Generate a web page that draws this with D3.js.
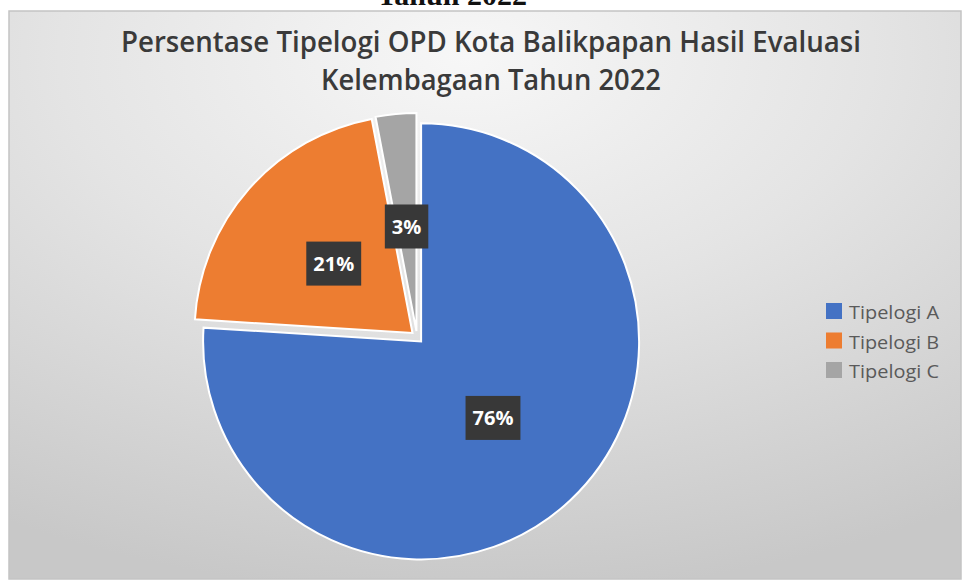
<!DOCTYPE html>
<html>
<head>
<meta charset="utf-8">
<script src="https://cdn.jsdelivr.net/npm/d3@7"></script>
<style>
  body { margin: 0; background: #fff; }
  svg { display: block; }
</style>
</head>
<body>
<div id="chart"></div>
<script>
// données
const categories = ["Tipelogi A", "Tipelogi B", "Tipelogi C"];
const values = [76, 21, 3];
const labels = ["76%", "21%", "3%"];
const colors = ["#4472C4", "#ED7D31", "#A5A5A5"];

const width = 963, height = 581;

const svg = d3.select("#chart").append("svg")
  .attr("width", width)
  .attr("height", height);

// fond dégradé
const defs = svg.append("defs");
const grad = defs.append("radialGradient")
  .attr("id", "bg")
  .attr("cx", "48%").attr("cy", "8%")
  .attr("r", "95%")
  .attr("fx", "48%").attr("fy", "8%");
grad.append("stop").attr("offset", "0%").attr("stop-color", "#f7f7f7");
grad.append("stop").attr("offset", "45%").attr("stop-color", "#e4e4e4");
grad.append("stop").attr("offset", "100%").attr("stop-color", "#c8c8c8");

svg.append("rect")
  .attr("x", 9).attr("y", 11)
  .attr("width", 952).attr("height", 568)
  .attr("fill", "url(#bg)")
  .attr("stroke", "#c4c4c4")
  .attr("stroke-width", 1.5);

// texte coupé en haut (comme dans l'image d'origine)
svg.append("text")
  .attr("x", 452).attr("y", 5)
  .attr("text-anchor", "middle")
  .attr("font-family", "Liberation Serif, serif")
  .attr("font-weight", "bold")
  .attr("font-size", 30)
  .attr("fill", "#111")
  .text("Tahun 2022");

// titre
const title = ["Persentase Tipelogi OPD Kota Balikpapan Hasil Evaluasi", "Kelembagaan Tahun 2022"];
const titleW = [740, 340];
svg.selectAll("text.title").data(title).enter()
  .append("text")
  .attr("class", "title")
  .attr("x", 491)
  .attr("y", (d, i) => 52 + i * 38)
  .attr("text-anchor", "middle")
  .attr("font-family", "Open Sans, sans-serif")
  .attr("font-weight", 600)
  .attr("font-size", 28)
  .attr("fill", "#3a3a3a")
  .attr("textLength", (d, i) => titleW[i])
  .attr("lengthAdjust", "spacingAndGlyphs")
  .text(d => d);

// camembert
const cx = 417, cy = 337, r = 218, explode = 6;
const pie = d3.pie().sort(null).value(d => d)(values);
const arc = d3.arc().innerRadius(0).outerRadius(r);
const labelArc = d3.arc().innerRadius(105).outerRadius(105);

const g = svg.append("g").attr("transform", `translate(${cx},${cy})`);

const slices = g.selectAll("g.slice").data(pie).enter()
  .append("g")
  .attr("class", "slice")
  .attr("transform", d => {
    const a = (d.startAngle + d.endAngle) / 2;
    return `translate(${explode * Math.sin(a)},${-explode * Math.cos(a)})`;
  });

slices.append("path")
  .attr("d", arc)
  .attr("fill", (d, i) => colors[i])
  .attr("stroke", "#ffffff")
  .attr("stroke-width", 2);

// étiquettes
slices.each(function(d, i) {
  const [lx, ly] = labelArc.centroid(d);
  const s = d3.select(this);
  const box = s.append("rect").attr("fill", "#383838");
  const t = s.append("text")
    .attr("x", lx).attr("y", ly)
    .attr("text-anchor", "middle")
    .attr("dominant-baseline", "central")
    .attr("font-family", "Open Sans, sans-serif")
    .attr("font-weight", "bold")
    .attr("font-size", 20)
    .attr("fill", "#ffffff")
    .text(labels[i]);
  const w = t.node().getComputedTextLength() + 14;
  box.attr("x", lx - w / 2).attr("y", ly - 22)
    .attr("width", w).attr("height", 44);
});

// légende
const legend = svg.selectAll("g.legend").data(categories).enter()
  .append("g")
  .attr("class", "legend")
  .attr("transform", (d, i) => `translate(826,${311 + i * 29.5})`);

legend.append("rect")
  .attr("x", 0).attr("y", -8)
  .attr("width", 16).attr("height", 16)
  .attr("fill", (d, i) => colors[i]);

legend.append("text")
  .attr("x", 23).attr("y", 1)
  .attr("dominant-baseline", "central")
  .attr("font-family", "Open Sans, sans-serif")
  .attr("font-size", 18)
  .attr("fill", "#5a5a5a")
  .attr("textLength", 90)
  .attr("lengthAdjust", "spacingAndGlyphs")
  .text(d => d);
</script>
</body>
</html>
